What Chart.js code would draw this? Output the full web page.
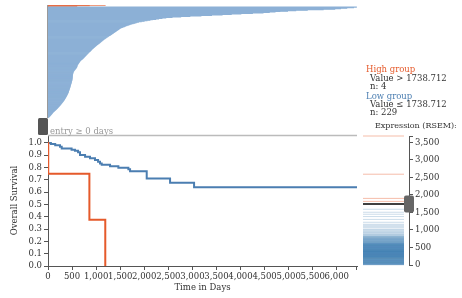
<!DOCTYPE html>
<html>
<head>
<meta charset="utf-8">
<script src="https://cdn.jsdelivr.net/npm/chart.js@4"></script>
<style>
  body { margin: 0; background: #fff; }
  #wrap { position: relative; width: 462px; height: 298px; overflow: hidden; }
  canvas { position: absolute; left: 0; top: 0; }
  .txt { position: absolute; font-family: 'DejaVu Serif'; font-size: 8.5px; line-height: 10px; white-space: nowrap; color: #333; }
</style>
</head>
<body>
<div id="wrap">
  <canvas id="top" width="462" height="298"></canvas>
  <canvas id="km" width="462" height="298"></canvas>
  <canvas id="expr" width="462" height="298"></canvas>
  <div class="txt" style="left:366px;top:64px;color:#e55a2b">High group</div>
  <div class="txt" style="left:370px;top:73px">Value &gt; 1738.712</div>
  <div class="txt" style="left:370px;top:81px">n: 4</div>
  <div class="txt" style="left:366px;top:91px;color:#4b7eb1">Low group</div>
  <div class="txt" style="left:370px;top:99px">Value ≤ 1738.712</div>
  <div class="txt" style="left:370px;top:107px">n: 229</div>
  <div class="txt" style="left:50px;top:126px;color:#999">entry ≥ 0 days</div>
  <div class="txt" style="left:375px;top:121px;font-size:8px">Expression (RSEM):</div>
</div>
<script>
// follow-up time per patient (days), sorted longest first
const followUpHigh = [1190, 860, 600, 5];
const followUpLow = [
  6410, 6350, 6210, 6080, 5960, 5720, 5390, 5150, 4980, 4820,
  4720, 4600, 4470, 4250, 4010, 3810, 3620, 3400, 3180, 2950,
  2760, 2580, 2450, 2370, 2300, 2240, 2170, 2120, 2060, 2000,
  1940, 1880, 1840, 1810, 1770, 1730, 1700, 1670, 1640, 1610,
  1590, 1560, 1540, 1520, 1500, 1485, 1470, 1455, 1440, 1425,
  1410, 1395, 1380, 1365, 1350, 1335, 1320, 1305, 1290, 1275,
  1260, 1245, 1230, 1215, 1200, 1185, 1170, 1155, 1143, 1130,
  1118, 1105, 1092, 1080, 1068, 1056, 1044, 1032, 1020, 1008,
  996, 984, 972, 960, 948, 936, 924, 912, 903, 894,
  884, 874, 864, 854, 844, 834, 824, 814, 804, 794,
  784, 774, 764, 754, 744, 734, 724, 714, 700, 686,
  678, 670, 662, 655, 648, 641, 634, 627, 620, 612,
  608, 605, 603, 600, 597, 590, 582, 574, 566, 558,
  550, 542, 535, 528, 524, 520, 518, 516, 514, 512,
  510, 509, 508, 507, 506, 505, 504, 503, 501, 500,
  499, 497, 494, 491, 488, 486, 483, 480, 477, 474,
  471, 468, 465, 462, 459, 457, 454, 450, 447, 443,
  440, 437, 433, 430, 427, 423, 420, 416, 411, 406,
  401, 396, 391, 385, 380, 375, 369, 363, 357, 351,
  345, 339, 333, 326, 318, 310, 302, 294, 286, 278,
  270, 262, 254, 245, 236, 226, 217, 208, 199, 190,
  181, 170, 159, 148, 137, 126, 115, 104, 96, 88,
  80, 72, 63, 54, 45, 36, 27, 18, 9
];

// Kaplan-Meier steps: time (days) and survival after that time
const kmHighTime = [0, 5, 860, 1190];
const kmHighSurv = [1.0, 0.75, 0.375, 0.0];
const kmLowTime = [0, 60, 150, 250, 285, 490, 560, 625, 665, 770, 873, 977, 1040, 1081, 1116, 1289, 1462, 1670, 1705, 2051, 2536, 3035, 6420];
const kmLowSurv = [1.0, 0.991, 0.982, 0.969, 0.955, 0.946, 0.937, 0.924, 0.902, 0.888, 0.875, 0.861, 0.847, 0.833, 0.824, 0.811, 0.799, 0.786, 0.771, 0.711, 0.677, 0.641, 0.641];

// expression values (RSEM)
const threshold = 1738.712;
const exprHigh = [3680, 2590, 1900, 1815];
const exprLow = [
  1590, 1505, 1448, 1382, 1301, 1219, 1162, 1131, 1094,
  1062, 1018, 997, 971, 948, 922, 907, 879, 861, 852, 833, 816, 808, 801,
  793, 781, 777, 764, 758, 751, 743, 737, 729, 724, 713, 709, 700, 694, 688,
  679, 671, 668, 659, 653, 646, 641, 633, 629, 621, 618, 611, 607, 604, 600,
  597, 593, 588, 586, 581, 577, 574, 572, 566, 563,
  560, 558, 553, 549, 546, 544, 539, 535, 534, 528,
  525, 523, 518, 516, 511, 507, 506, 502, 497, 495,
  490, 488, 483, 479, 478, 472, 469, 467, 462, 458,
  455, 453, 448, 446, 441, 437, 436, 432, 427, 425,
  420, 418, 413, 411, 408, 405, 403, 402, 401, 400,
  398, 395, 392, 390, 387, 384, 381, 379, 376, 373,
  370, 368, 365, 362, 359, 357, 354, 351, 348, 346,
  343, 340, 337, 335, 332, 329, 326, 324, 321, 318,
  315, 313, 310, 307, 304, 302, 299, 296, 293, 291,
  288, 285, 282, 280, 277, 274, 271, 269, 266, 263,
  260, 258, 255, 252, 249, 247, 244, 241, 238, 236,
  233, 230, 227, 225, 222, 219, 216, 213, 208, 203,
  198, 194, 190, 186, 181, 177, 173, 169, 165, 160,
  156, 152, 148, 144, 139, 135, 131, 127, 123, 118,
  114, 110, 106, 102, 97, 93, 89, 85, 81, 76,
  72, 68, 64, 60, 55, 51, 47, 43, 39, 34,
  30, 26, 22, 17, 12, 6
];

// axis ticks
const dayTicks = [0, 500, 1000, 1500, 2000, 2500, 3000, 3500, 4000, 4500, 5000, 5500, 6000];
const survTicks = [0, 0.1, 0.2, 0.3, 0.4, 0.5, 0.6, 0.7, 0.8, 0.9, 1.0];
const exprTicks = [0, 500, 1000, 1500, 2000, 2500, 3000, 3500];

const orange = '#e55a2b';
const blue = '#4b7eb1';
const maxDays = 6420;

Chart.defaults.font.family = 'DejaVu Serif';
Chart.defaults.font.size = 8.5;
Chart.defaults.color = '#333';
Chart.defaults.animation = false;
Chart.defaults.plugins.legend.display = false;
Chart.defaults.plugins.tooltip.enabled = false;

// top panel: one bar per patient
const rows = followUpHigh.concat(followUpLow);
const topDecor = {
  id: 'topDecor',
  afterDraw(chart) {
    const { ctx, chartArea: a } = chart;
    ctx.save();
    ctx.strokeStyle = '#999';
    ctx.lineWidth = 1;
    ctx.beginPath();
    ctx.moveTo(a.left - 0.5, a.top);
    ctx.lineTo(a.left - 0.5, a.bottom);
    ctx.stroke();
    ctx.restore();
  }
};
new Chart(document.getElementById('top'), {
  type: 'bar',
  data: {
    labels: rows.map((_, i) => i),
    datasets: [{
      data: rows,
      backgroundColor: rows.map((_, i) => i < followUpHigh.length ? 'rgba(229,90,43,0.8)' : '#8cb0d6'),
      borderWidth: 0,
      barPercentage: 1,
      categoryPercentage: 1
    }]
  },
  options: {
    indexAxis: 'y',
    responsive: false,
    layout: { padding: { left: 48, top: 5, right: 105, bottom: 180 } },
    scales: {
      x: { display: false, min: 0, max: maxDays },
      y: { display: false }
    }
  },
  plugins: [topDecor]
});

// survival curves
const kmDecor = {
  id: 'kmDecor',
  afterDraw(chart) {
    const { ctx, chartArea: a } = chart;
    ctx.save();
    ctx.strokeStyle = '#bbb';
    ctx.lineWidth = 1.5;
    ctx.beginPath();
    ctx.moveTo(a.left, a.top + 0.5);
    ctx.lineTo(a.right, a.top + 0.5);
    ctx.stroke();
    ctx.strokeStyle = '#555';
    ctx.lineWidth = 1;
    ctx.beginPath();
    ctx.moveTo(a.right - 0.5, a.bottom);
    ctx.lineTo(a.right - 0.5, a.bottom + 4);
    ctx.stroke();
    ctx.fillStyle = '#555';
    ctx.beginPath();
    ctx.roundRect(a.left - 10, a.top - 17, 10, 17, 1.5);
    ctx.fill();
    ctx.restore();
  }
};
new Chart(document.getElementById('km'), {
  type: 'line',
  data: {
    datasets: [
      {
        data: kmHighTime.map((t, i) => ({ x: t, y: kmHighSurv[i] })),
        borderColor: orange,
        borderWidth: 2,
        stepped: true,
        pointRadius: 0
      },
      {
        data: kmLowTime.map((t, i) => ({ x: t, y: kmLowSurv[i] })),
        borderColor: blue,
        borderWidth: 2,
        stepped: true,
        pointRadius: 0
      }
    ]
  },
  options: {
    responsive: false,
    layout: { padding: { left: 0, top: 135, right: 105, bottom: 0 } },
    scales: {
      x: {
        type: 'linear',
        min: 0,
        max: maxDays,
        afterBuildTicks: s => { s.ticks = dayTicks.map(v => ({ value: v })); },
        afterFit: s => { s.height = 32; },
        grid: { drawOnChartArea: false, tickLength: 4, color: '#555' },
        border: { color: '#555' },
        ticks: { autoSkip: false, maxRotation: 0, padding: 2, callback: v => v.toLocaleString('en-US') },
        title: { display: true, text: 'Time in Days', padding: { top: 0, bottom: 5 } }
      },
      y: {
        min: 0,
        max: 1.065,
        afterBuildTicks: s => { s.ticks = survTicks.map(v => ({ value: v })); },
        afterFit: s => { s.width = 48; },
        grid: { drawOnChartArea: false, tickLength: 4, color: '#555' },
        border: { color: '#555' },
        ticks: { autoSkip: false, padding: 2, callback: v => v.toFixed(1) },
        title: { display: true, text: 'Overall Survival', padding: { top: 10, bottom: 0 } }
      }
    }
  },
  plugins: [kmDecor]
});

// expression strip
const exprDecor = {
  id: 'exprDecor',
  afterDraw(chart) {
    const { ctx, chartArea: a, scales: { y } } = chart;
    const ty = y.getPixelForValue(threshold);
    ctx.save();
    ctx.strokeStyle = '#555';
    ctx.lineWidth = 1;
    ctx.beginPath();
    ctx.moveTo(a.right, a.top + 0.5);
    ctx.lineTo(a.right + 4, a.top + 0.5);
    ctx.stroke();
    ctx.fillStyle = '#666';
    ctx.beginPath();
    ctx.roundRect(a.right - 5, ty - 8.5, 10, 17, 2);
    ctx.fill();
    ctx.restore();
  }
};
new Chart(document.getElementById('expr'), {
  type: 'scatter',
  data: {
    datasets: [
      {
        data: [{ x: 23, y: threshold }],
        pointStyle: 'line', pointRadius: 23, pointBorderWidth: 1.5, pointBorderColor: '#000'
      },
      {
        data: exprHigh.map(v => ({ x: 20.5, y: v })),
        pointStyle: 'line', pointRadius: 20.5, pointBorderWidth: 1, pointBorderColor: 'rgba(229,90,43,0.4)',
        clip: false
      },
      {
        data: exprLow.map(v => ({ x: 20.5, y: v })),
        pointStyle: 'line', pointRadius: 20.5, pointBorderWidth: 1, pointBorderColor: 'rgba(70,130,180,0.28)',
        clip: false
      }
    ]
  },
  options: {
    responsive: false,
    layout: { padding: { left: 363, top: 136, right: 0, bottom: 33 } },
    scales: {
      x: { display: false, min: 0, max: 46 },
      y: {
        position: 'right',
        min: 0,
        max: 3680,
        afterBuildTicks: s => { s.ticks = exprTicks.map(v => ({ value: v })); },
        afterFit: s => { s.width = 53; },
        grid: { drawOnChartArea: false, tickLength: 4, color: '#555' },
        border: { color: '#555' },
        ticks: { autoSkip: false, padding: 2, callback: v => v.toLocaleString('en-US') }
      }
    }
  },
  plugins: [exprDecor]
});
</script>
</body>
</html>
